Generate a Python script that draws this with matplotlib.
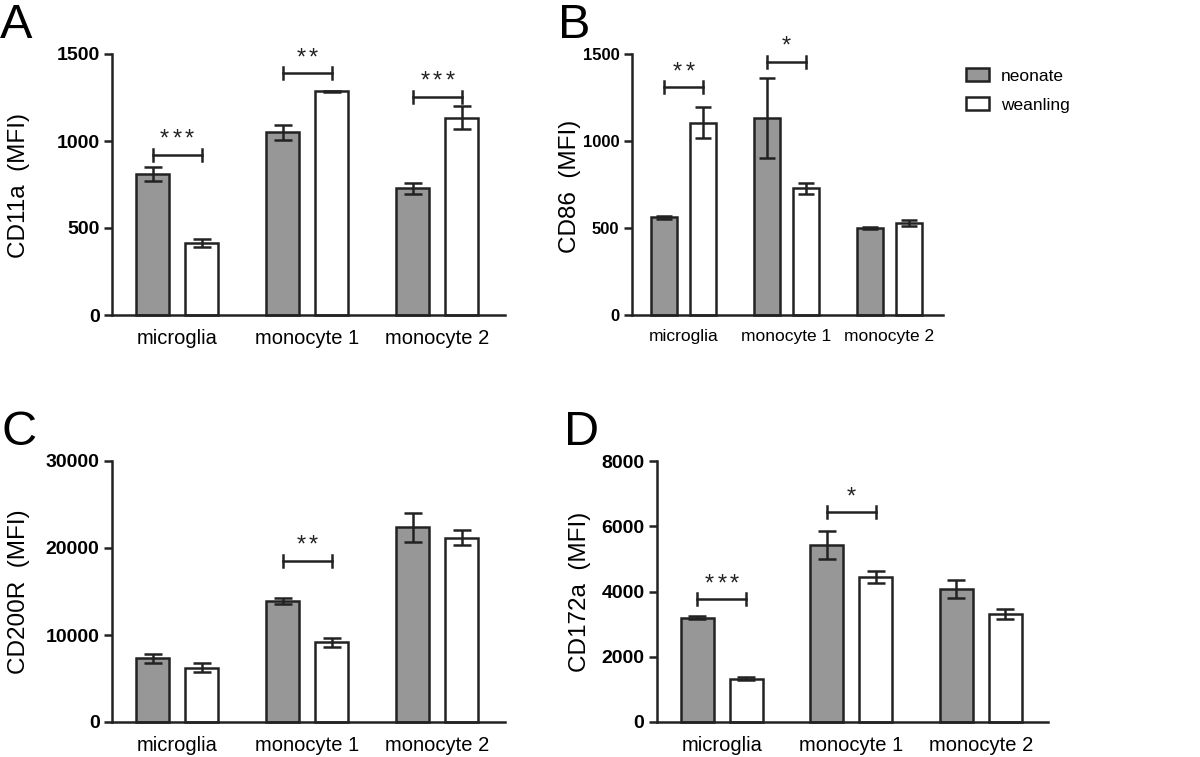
import numpy as np
import matplotlib
matplotlib.use("Agg")
import matplotlib.pyplot as plt
from matplotlib.patches import Patch

plt.rcParams["font.family"] = ["Liberation Sans", "DejaVu Sans"]

W, H = 1200, 757

cells = ["microglia", "monocyte 1", "monocyte 2"]

# panel A: CD11a
cd11a_neo = [812, 1050, 728]
cd11a_neo_err = [40, 43, 32]
cd11a_wean = [412, 1287, 1134]
cd11a_wean_err = [23, 3, 65]

# panel B: CD86
cd86_neo = [561, 1132, 498]
cd86_neo_err = [8, 232, 6]
cd86_wean = [1105, 728, 527]
cd86_wean_err = [90, 31, 17]

# panel C: CD200R
cd200r_neo = [7318, 13870, 22375]
cd200r_neo_err = [500, 345, 1670]
cd200r_wean = [6245, 9157, 21188]
cd200r_wean_err = [480, 520, 840]

# panel D: CD172a
cd172a_neo = [3197, 5424, 4076]
cd172a_neo_err = [50, 425, 265]
cd172a_wean = [1328, 4454, 3320]
cd172a_wean_err = [50, 185, 148]

# significance: (group index, bracket height, number of stars)
sig_a = [(0, 920, 3), (1, 1389, 2), (2, 1255, 3)]
sig_b = [(0, 1308, 2), (1, 1456, 1)]
sig_c = [(1, 18506, 2)]
sig_d = [(0, 3759, 3), (1, 6425, 1)]

GRAY = "#979797"
EDGE = "#222222"
BW = 0.255
OFF = 0.188


def px_axes(fig, x0, x1, ytop, ybot):
    return fig.add_axes([x0 / W, 1 - ybot / H, (x1 - x0) / W, (ybot - ytop) / H])


def panel(ax, neo, neo_err, wean, wean_err, ymax, yticks, sigs,
          tick_fs=14, cat_fs=14.5, capsize=6.5):
    x = np.arange(len(cells))
    ekw = dict(elinewidth=1.8, capthick=1.8, ecolor=EDGE, capsize=capsize)
    ax.bar(x - OFF, neo, BW, color=GRAY, edgecolor=EDGE, linewidth=1.8,
           yerr=neo_err, error_kw=ekw, zorder=2, clip_on=False)
    ax.bar(x + OFF, wean, BW, color="white", edgecolor=EDGE, linewidth=1.8,
           yerr=wean_err, error_kw=ekw, zorder=2, clip_on=False)
    ax.set_xlim(-0.5, 2.52)
    ax.set_ylim(0, ymax)
    ax.set_yticks(yticks)
    ax.set_yticklabels([str(t) for t in yticks], fontweight="bold", fontsize=tick_fs)
    ax.set_xticks(x)
    ax.set_xticklabels(cells, fontsize=cat_fs)
    ax.tick_params(axis="x", length=0, pad=10)
    ax.tick_params(axis="y", length=6, width=1.8, direction="out", pad=3, color=EDGE)
    for s in ["top", "right"]:
        ax.spines[s].set_visible(False)
    for s in ["left", "bottom"]:
        ax.spines[s].set_linewidth(1.8)
        ax.spines[s].set_color(EDGE)
    tick_h = ymax * 0.023
    for g, yb, n in sigs:
        x0, x1 = g - OFF, g + OFF
        ax.plot([x0, x1], [yb, yb], color=EDGE, lw=1.8, clip_on=False)
        ax.plot([x0, x0], [yb - tick_h, yb + tick_h], color=EDGE, lw=1.8, clip_on=False)
        ax.plot([x1, x1], [yb - tick_h, yb + tick_h], color=EDGE, lw=1.8, clip_on=False)
        step = 9.0
        for k in range(n):
            dx = (k - (n - 1) / 2) * step
            ax.annotate("*", (g, yb), xytext=(dx, 3), textcoords="offset points",
                        ha="center", va="bottom", fontsize=17, color=EDGE,
                        annotation_clip=False)


fig = plt.figure(figsize=(W / 100, H / 100), dpi=100)

ax_a = px_axes(fig, 112, 505, 54, 315)
panel(ax_a, cd11a_neo, cd11a_neo_err, cd11a_wean, cd11a_wean_err,
      1500, [0, 500, 1000, 1500], sig_a)

ax_b = px_axes(fig, 632, 943, 54, 315)
panel(ax_b, cd86_neo, cd86_neo_err, cd86_wean, cd86_wean_err,
      1500, [0, 500, 1000, 1500], sig_b, tick_fs=12, cat_fs=12.5, capsize=5.5)

ax_c = px_axes(fig, 112, 505, 461, 722)
panel(ax_c, cd200r_neo, cd200r_neo_err, cd200r_wean, cd200r_wean_err,
      30000, [0, 10000, 20000, 30000], sig_c)

ax_d = px_axes(fig, 657, 1048, 461, 722)
panel(ax_d, cd172a_neo, cd172a_neo_err, cd172a_wean, cd172a_wean_err,
      8000, [0, 2000, 4000, 6000, 8000], sig_d)

# y labels placed at fixed pixel centres
for lab, xp, yp in [("CD11a  (MFI)", 19, 186), ("CD86  (MFI)", 570, 186),
                    ("CD200R  (MFI)", 19, 592), ("CD172a  (MFI)", 580, 592)]:
    fig.text(xp / W, 1 - yp / H, lab, fontsize=17.5, rotation=90,
             ha="center", va="center")

for lab, xp, yp in [("A", 0, 38), ("B", 558, 38), ("C", 1, 445), ("D", 564, 445)]:
    fig.text(xp / W, 1 - yp / H, lab, fontsize=35, ha="left", va="baseline")

handles = [Patch(facecolor=GRAY, edgecolor=EDGE, linewidth=1.8, label="neonate"),
           Patch(facecolor="white", edgecolor=EDGE, linewidth=1.8, label="weanling")]
fig.legend(handles=handles, loc="upper left", bbox_to_anchor=(950 / W, 1 - 52 / H),
           frameon=False, fontsize=12.5, handlelength=1.35, handleheight=0.85,
           handletextpad=0.7, labelspacing=0.75)

fig.savefig("out.png", dpi=100)
